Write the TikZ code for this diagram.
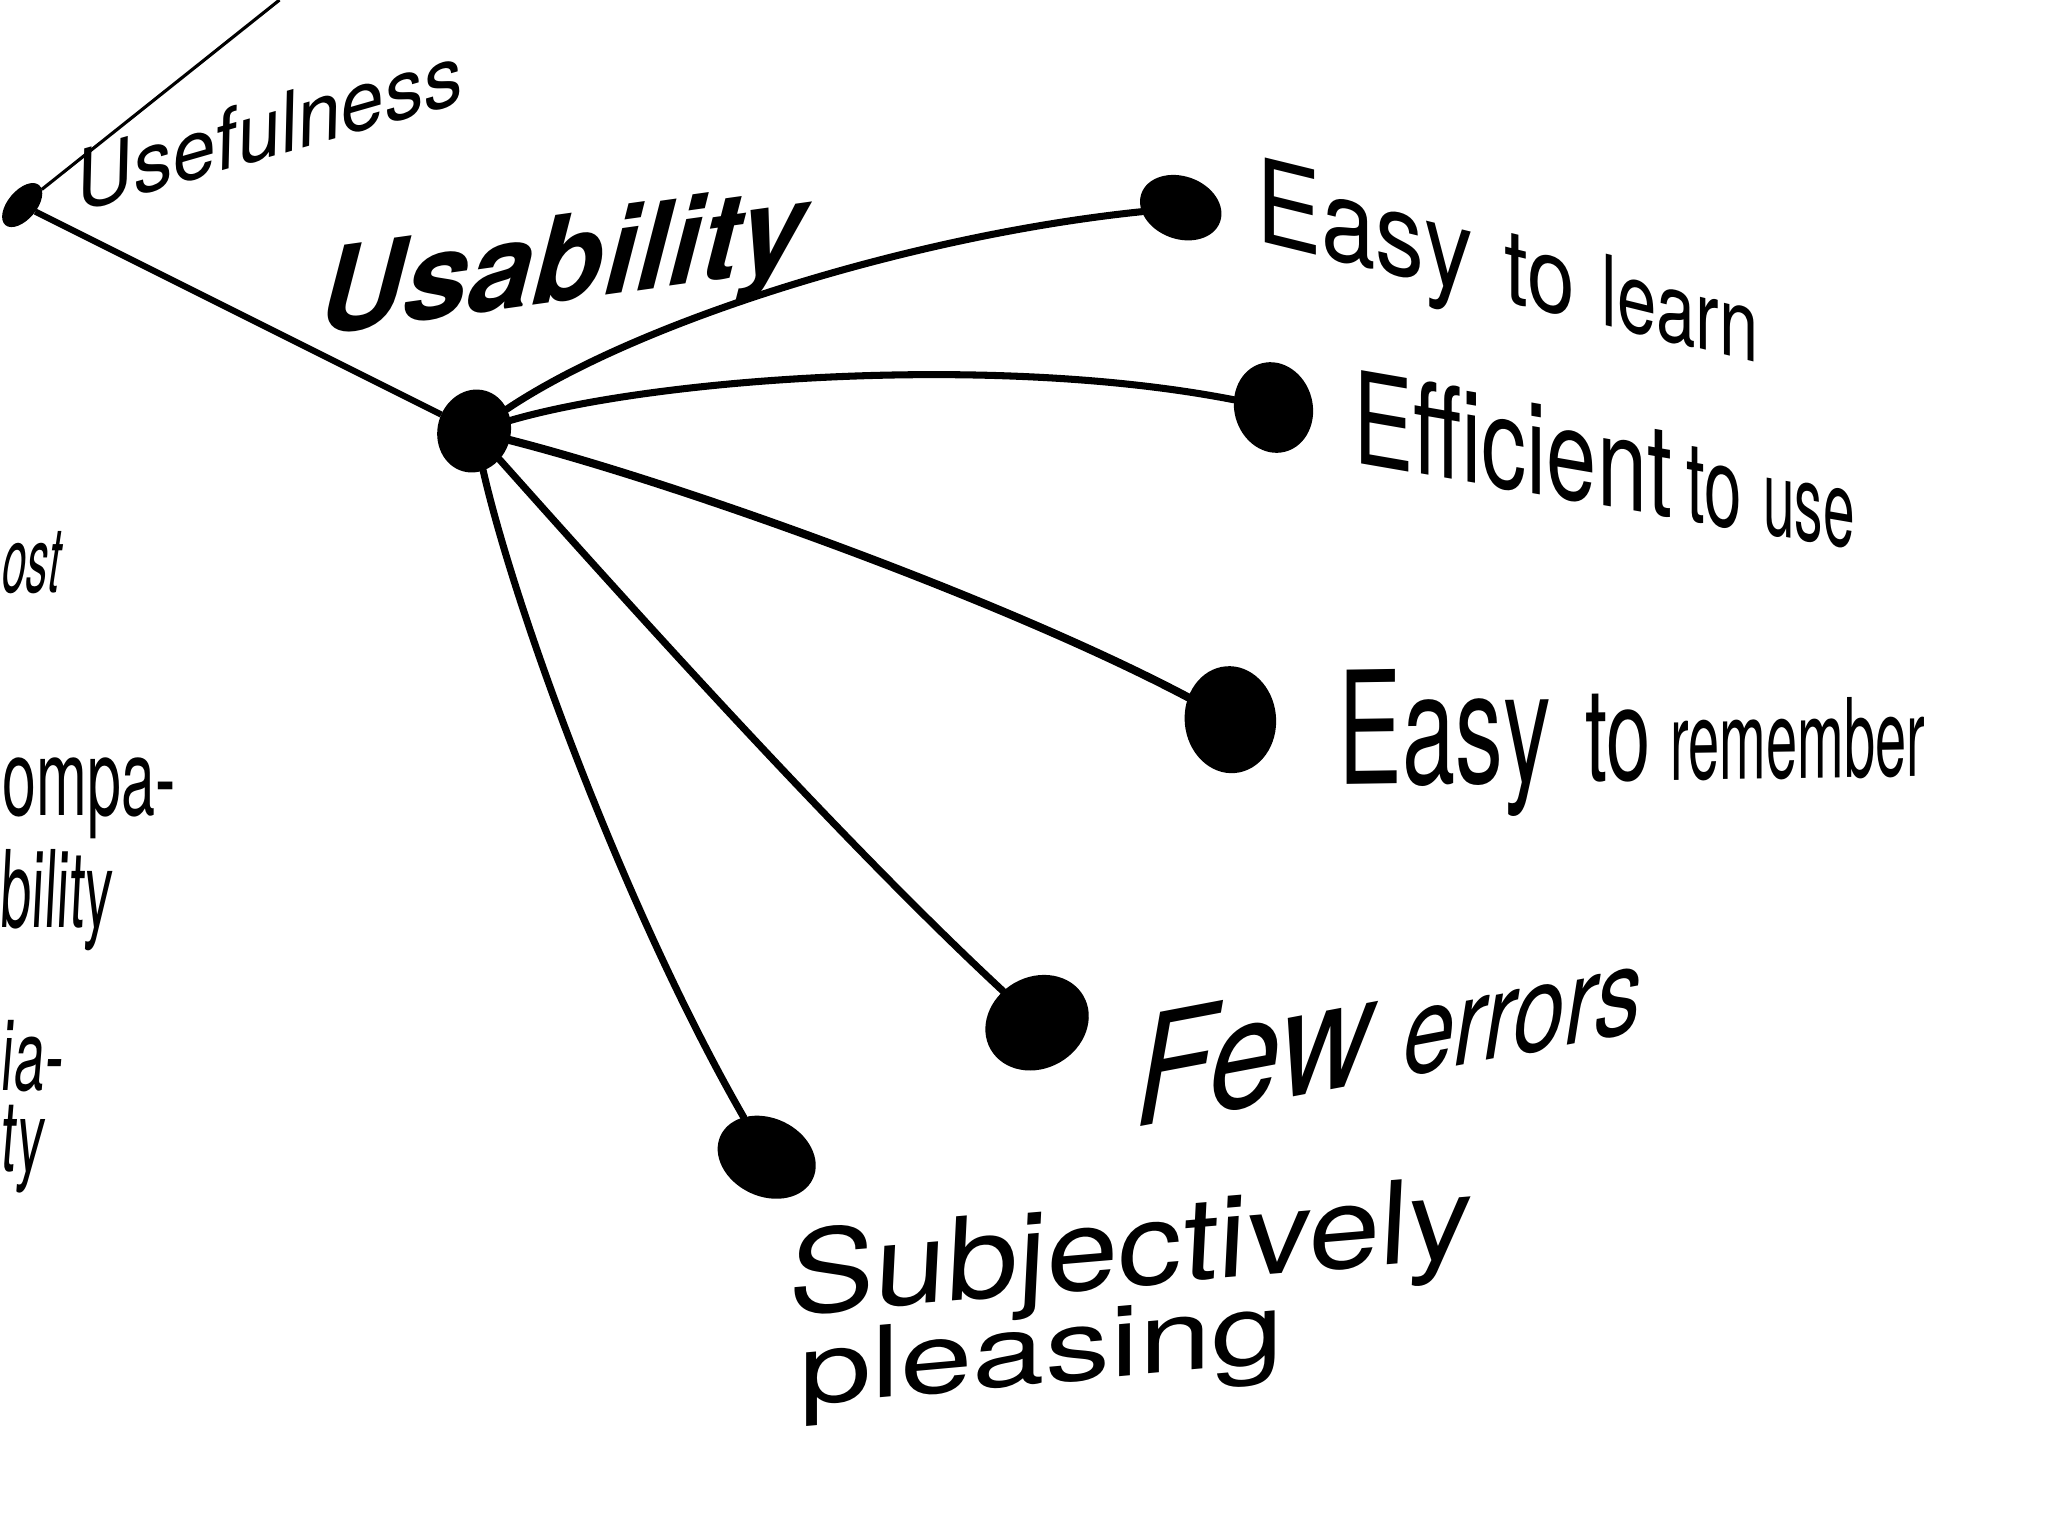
\documentclass[tikz,border=0pt]{standalone}
\usepackage{fontspec}
\usepackage{graphicx}
\setmainfont{TeX Gyre Heros}
\usetikzlibrary{shapes.geometric}
\newcommand\pword[3]{\scalebox{#2}[1]{\fontsize{#1}{#1}\selectfont #3}}
\begin{document}
\begin{tikzpicture}[x=0.5pt,y=-0.5pt,
  blob/.style={ellipse, fill=black, draw=none, inner sep=0pt, outer sep=0pt},
  lbl/.style={inner sep=0pt, outer sep=0pt, anchor=base west},
  conn/.style={line width=2.7pt, line cap=round},
  thinline/.style={line width=1.2pt},
  midline/.style={line width=2.4pt}]
\useasboundingbox[fill=white] (0,0) rectangle (1568,1176);

% dots
\node[blob, minimum width=20pt, minimum height=11pt, rotate=50] (uf) at (17,157) {};
\node[blob, minimum width=28pt, minimum height=32pt, rotate=-15] (ub) at (363,330) {};
\node[blob, minimum width=32pt, minimum height=24pt, rotate=-20] (e1) at (904,159) {};
\node[blob, minimum width=30pt, minimum height=35pt, rotate=15] (e2) at (975,312) {};
\node[blob, minimum width=35pt, minimum height=41pt, rotate=5] (e3) at (942,551) {};
\node[blob, minimum width=41pt, minimum height=35pt, rotate=30] (e4) at (794,783) {};
\node[blob, minimum width=39pt, minimum height=30pt, rotate=-25] (e5) at (587,886) {};
\coordinate (top) at (214,0);

% connectors
\draw[thinline] (uf) -- (top);
\draw[midline] (uf) -- (ub);
\draw[conn] (ub) .. controls (490,245) and (700,180) .. (e1);
\draw[conn] (ub) .. controls (500,290) and (760,270) .. (e2);
\draw[conn, line width=3.1pt] (ub) .. controls (520,370) and (770,460) .. (e3);
\draw[conn] (ub) .. controls (470,450) and (640,640) .. (e4);
\draw[conn] (ub) .. controls (395,470) and (480,700) .. (e5);

% labels
\node[lbl, rotate=16, xslant=0.1] (tuf) at (62,162) {\fontsize{31}{31}\selectfont\itshape Usefulness};
\node[lbl, rotate=8, xslant=0.2] (tub) at (243,257) {\fontsize{45}{45}\selectfont\bfseries\itshape Usability};
\node[lbl, yslant=-0.245] (t1) at (962,184) {\pword{44.5}{0.84}{Easy}\hspace{12pt}\pword{40}{0.82}{to}\hspace{10pt}\pword{37.6}{0.72}{learn}};
\node[lbl, yslant=-0.173] (t2) at (1036,354) {\pword{49}{0.705}{Efficient}\hspace{5.5pt}\pword{43}{0.6}{to}\hspace{8pt}\pword{41}{0.53}{use}};
\node[lbl, yslant=0.015] (t3) at (1025,601) {\pword{60}{0.61}{Easy}\hspace{13pt}\pword{50}{0.61}{to}\hspace{7.5pt}\pword{42}{0.51}{remember}};
\node[lbl, yslant=0.19] (t4) at (869,863) {\itshape\pword{58}{0.85}{Few}\hspace{12pt}\pword{46}{0.77}{errors}};
\node[lbl, yslant=0.085, xslant=0.05] (t5a) at (603,1007) {\pword{44}{1.12}{Subjectively}};
\node[lbl, yslant=0.09] (t5b) at (612,1076) {\pword{38}{1.31}{pleasing}};

% cut-off labels at the left edge
\node[lbl, xslant=0.15] (tcost) at (0,454) {\pword{35}{0.47}{ost}};
\node[lbl] (tcomp1) at (2,624) {\pword{41}{0.57}{ompa-}};
\node[lbl, xslant=0.05] (tcomp2) at (0,710) {\pword{41}{0.52}{bility}};
\node[lbl, xslant=0.08] (trel1) at (0,835) {\pword{38}{0.56}{ia-}};
\node[lbl, xslant=0.08] (trel2) at (0,897) {\pword{38}{0.55}{ty}};
\end{tikzpicture}
\end{document}
